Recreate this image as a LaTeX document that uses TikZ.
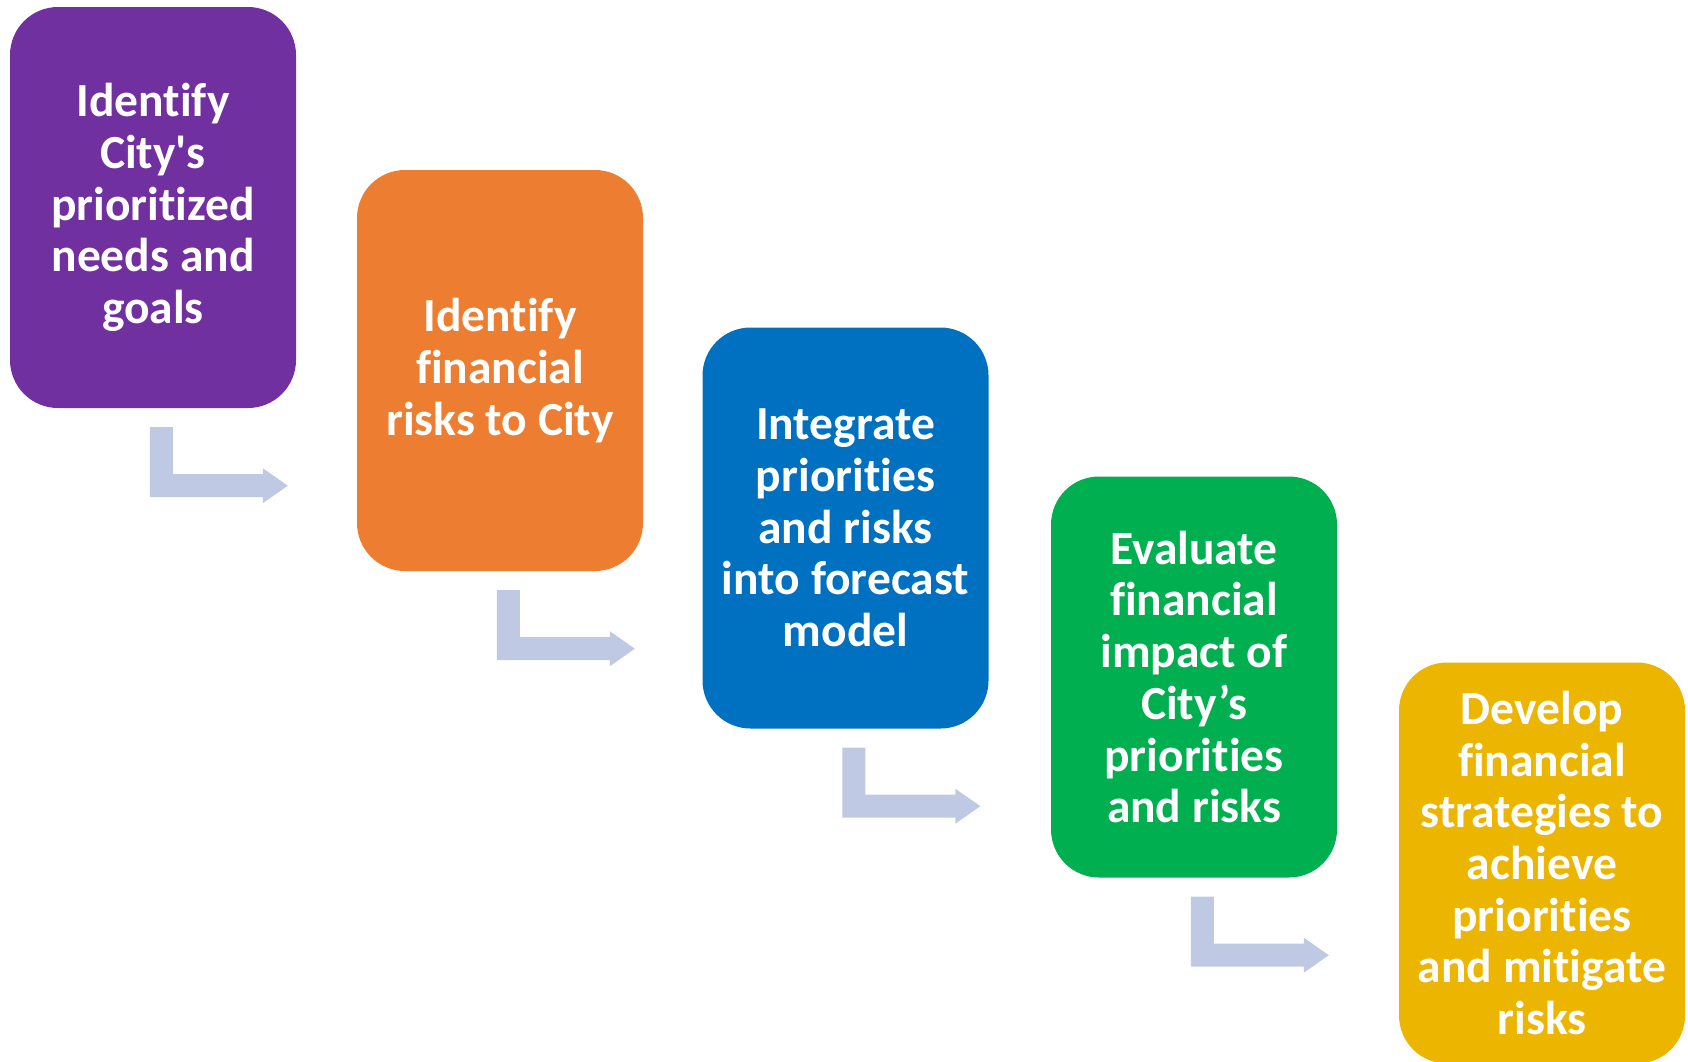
\documentclass[tikz,border=0pt]{standalone}
\usepackage{fontspec}
\setmainfont{Carlito}[Ligatures=TeX,RawFeature={-liga;-clig;-calt;-dlig}]
\usetikzlibrary{calc}
\definecolor{stepPurple}{RGB}{112,48,160}
\definecolor{stepOrange}{RGB}{237,125,49}
\definecolor{stepBlue}{RGB}{0,112,192}
\definecolor{stepGreen}{RGB}{0,176,80}
\definecolor{stepGold}{RGB}{236,181,0}
\definecolor{turnBlue}{RGB}{191,201,228}
\tikzset{
  stage/.style={rounded corners=48pt,minimum width=286pt,minimum height=401pt,inner sep=0pt,
    text=white,align=center,font=\bfseries\fontsize{47.5}{51.7}\selectfont},
  turn/.style={fill=turnBlue}
}
\begin{document}
\begin{tikzpicture}[x=1pt,y=-1pt]
\useasboundingbox(0,0)rectangle(1688,1061);
% the five stages, stepping down to the right
\node[stage,fill=stepPurple](s1)at(153,207.5){Identify\\City\textquotesingle s\\prioritized\\needs and\\goals};
\node[stage,fill=stepOrange](s2)at(500,370.5){Identify\\financial\\risks to City};
\node[stage,fill=stepBlue](s3)at(845.5,528){Integrate\\priorities\\and risks\\into forecast\\model};
\node[stage,fill=stepGreen](s4)at(1194,677){Evaluate\\financial\\impact of\\City’s\\priorities\\and risks};
\node[stage,fill=stepGold](s5)at(1542,863){Develop\\financial\\strategies to\\achieve\\priorities\\and mitigate\\risks};
% bent arrows under each stage
\foreach \a in {s1,s2,s3,s4}{
  \fill[turn]($(\a.south west)+(140,19)$)--($(\a.south west)+(163,19)$)--($(\a.south west)+(163,66)$)
    --($(\a.south west)+(253,66)$)--($(\a.south west)+(253,60)$)--($(\a.south west)+(278,77.5)$)
    --($(\a.south west)+(253,95)$)--($(\a.south west)+(253,89)$)--($(\a.south west)+(140,89)$)--cycle;
}
\end{tikzpicture}
\end{document}
